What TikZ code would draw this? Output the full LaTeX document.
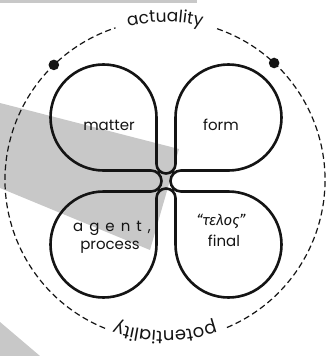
\documentclass[tikz,border=0pt]{standalone}
\usepackage{fontspec}
\setmainfont{Poppins}
\newfontfamily\greekfont{Fira Sans}
\usetikzlibrary{decorations.text}
\definecolor{beam}{RGB}{200,200,200}
\definecolor{ink}{RGB}{20,20,20}

\tikzset{
  lobe/.style={draw=ink, line width=2.6pt, line join=round},
  orbit/.style={draw=ink, line width=1.2pt, dash pattern=on 6pt off 3.5pt},
  causelbl/.style={anchor=base, inner sep=0pt, text=ink, font=\fontsize{15}{17}\selectfont},
}

\begin{document}
\begin{tikzpicture}[x=1pt, y=-1pt]
	\def\cx{165}
	\def\cy{180}
	\def\R{160}
	\def\r{53}

	% --- canvas ---
	\fill[white] (0,0) rectangle (336,356);
	\useasboundingbox (0,0) rectangle (336,356);

	% --- gray backdrop ---
	\fill[beam] (0,0) rectangle (197,3);
	\fill[beam] (0,103) -- (179,149) -- (150,250) -- (0,188) -- cycle;
	\fill[beam] (0,322) -- (40,356) -- (0,356) -- cycle;

	% --- outer dashed circle, open where the words sit ---
	\draw[orbit] (\cx,\cy) ++(289:\R) arc[start angle=289, end angle=428, radius=\R];
	\draw[orbit] (\cx,\cy) ++(112:\R) arc[start angle=112, end angle=252, radius=\R];

	% dots
	\fill[ink] (\cx,\cy) ++(226:\R) circle[radius=5.3];
	\fill[ink] (\cx,\cy) ++(313:\R) circle[radius=5.3];

	% words along the circle
	\path[decorate, decoration={text along path, text align=center,
	    text={|\fontsize{17}{20}\selectfont\color{ink}|actuality}}]
	  (\cx,\cy) ++(240:158) arc[start angle=240, end angle=300, radius=158];
	\path[decorate, decoration={text along path, text align=center,
	    text={|\fontsize{18}{21}\selectfont\color{ink}|potentiality}}]
	  (\cx,\cy) ++(56:151) arc[start angle=56, end angle=124, radius=151];

	% --- four-leaf outline (one closed curve) ---
	\draw[lobe] (156.5,117.5)
	  arc[start angle=360, end angle=90, radius=\r]      % matter
	  -- (151,170.5)
	  arc[start angle=270, end angle=450, radius=10.5]   % left tip
	  -- (103.5,191.5)
	  arc[start angle=270, end angle=0, radius=\r]       % agent
	  -- (156.5,198)
	  arc[start angle=180, end angle=360, radius=9.5]    % bottom tip
	  -- (175.5,244.5)
	  arc[start angle=180, end angle=-90, radius=\r]     % final
	  -- (181,191.5)
	  arc[start angle=90, end angle=270, radius=10.5]    % right tip
	  -- (228.5,170.5)
	  arc[start angle=90, end angle=-180, radius=\r]     % form
	  -- (175.5,164)
	  arc[start angle=0, end angle=180, radius=9.5]      % top tip
	  -- cycle;

	% --- cause labels ---
	\node[causelbl] (matter) at (109,130) {matter};
	\node[causelbl] (form) at (221,130) {form};
	\node[causelbl] (agent) at (112,231) {\addfontfeature{LetterSpace=40}agent,};
	\node[causelbl] (process) at (110,249) {process};
	\node[causelbl, font=\fontsize{15}{17}\greekfont\itshape] (telos) at (221,225) {“τελος”};
	\node[causelbl] (final) at (224,246) {final};
\end{tikzpicture}
\end{document}
